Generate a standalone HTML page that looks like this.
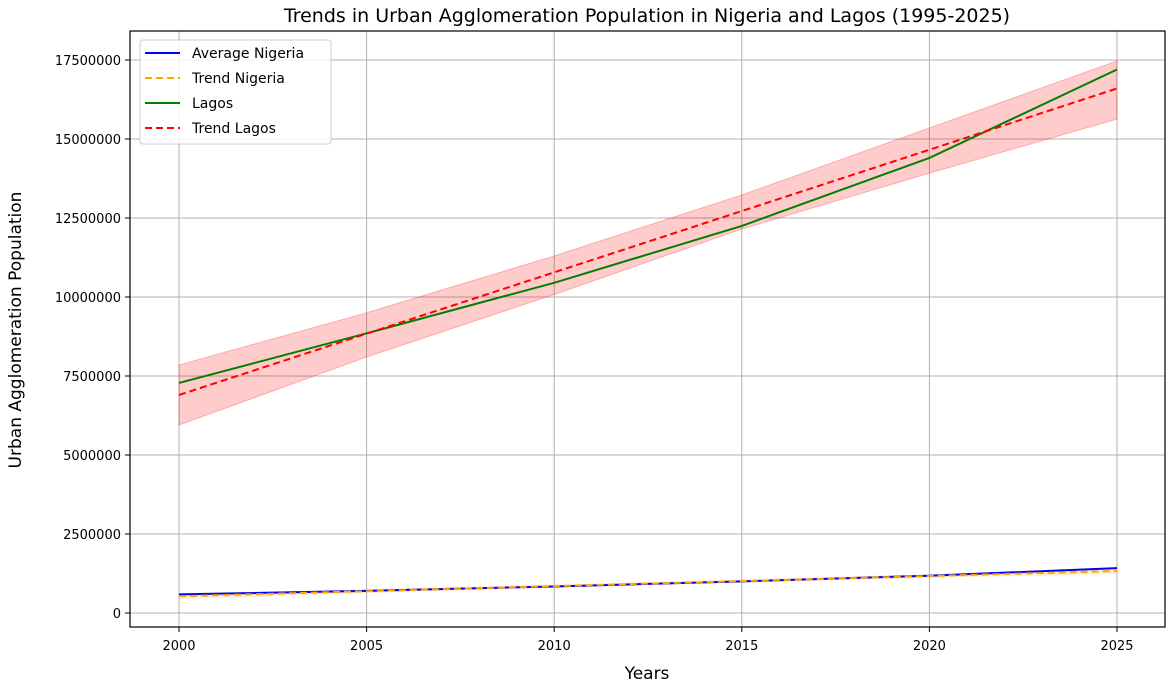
<!DOCTYPE html>
<html><head><meta charset="utf-8"><style>
body{margin:0;background:#fff;font-family:"DejaVu Sans","Liberation Sans",sans-serif;}
svg text{font-family:"DejaVu Sans","Liberation Sans",sans-serif;}
</style></head><body>
<svg id="chart" width="1170" height="684" xmlns="http://www.w3.org/2000/svg"></svg>
<script>
const years=[2000,2005,2010,2015,2020,2025];
const nigeria=[590000,700000,840000,1000000,1180000,1420000];
const lagos=[7280000,8850000,10450000,12250000,14400000,17200000];
const trendNigeriaEnds=[530000,1330000];
const trendLagosEnds=[6900000,16600000];
const bandNigeriaHalf=[90000,60000,50000,50000,60000,90000];
const bandLagosLower=[5950000,8100000,10080000,12150000,13920000,15630000];
const bandLagosUpper=[7850000,9500000,11300000,13230000,15350000,17470000];
const yTicks=[0,2500000,5000000,7500000,10000000,12500000,15000000,17500000];
const xTicks=[2000,2005,2010,2015,2020,2025];

const NS='http://www.w3.org/2000/svg';
const svg=document.getElementById('chart');
const L=130,R=1165,T=31,B=627;
const x=v=>179+(v-2000)*(1117-179)/25;
const y=v=>613-v*(613-60)/17500000;
function mk(tag,attrs,name,parent){const e=document.createElementNS(NS,tag);for(const k in attrs)e.setAttribute(k,attrs[k]);


(parent||svg).appendChild(e);return e;}
xTicks.forEach(t=>{mk('line',{x1:x(t),x2:x(t),y1:T,y2:B,stroke:'#b0b0b0','stroke-width':1},'x-grid-line');
mk('line',{x1:x(t),x2:x(t),y1:B,y2:B+5,stroke:'#000'},'x-tick');
const tx=mk('text',{x:x(t),y:B+23,'text-anchor':'middle','font-size':13},'x-tick-label');tx.textContent=t;});
yTicks.forEach(t=>{mk('line',{x1:L,x2:R,y1:y(t),y2:y(t),stroke:'#b0b0b0','stroke-width':1},'y-grid-line');
mk('line',{x1:L-5,x2:L,y1:y(t),y2:y(t),stroke:'#000'},'y-tick');
const tx=mk('text',{x:L-9,y:y(t)+5,'text-anchor':'end','font-size':13},'y-tick-label');tx.textContent=t;});
const x0=x(years[0]),x1=x(years[years.length-1]);
const trendAt=(ends,i)=>ends[0]+(ends[1]-ends[0])*(years[i]-years[0])/(years[years.length-1]-years[0]);
let up=years.map((yr,i)=>x(yr)+','+y(bandLagosUpper[i]));
let lo=years.map((yr,i)=>x(yr)+','+y(bandLagosLower[i])).reverse();
mk('polygon',{points:up.concat(lo).join(' '),fill:'rgba(255,0,0,0.2)',stroke:'rgba(255,0,0,0.25)'},'lagos-confidence-band');
up=years.map((yr,i)=>x(yr)+','+y(trendAt(trendNigeriaEnds,i)+bandNigeriaHalf[i]));
lo=years.map((yr,i)=>x(yr)+','+y(trendAt(trendNigeriaEnds,i)-bandNigeriaHalf[i])).reverse();
mk('polygon',{points:up.concat(lo).join(' '),fill:'rgba(255,165,0,0.2)'},'nigeria-confidence-band');
const pts=a=>a.map((v,i)=>x(years[i])+','+y(v)).join(' ');
mk('polyline',{points:pts(nigeria),fill:'none',stroke:'#0000ff','stroke-width':2},'average-nigeria-line');
mk('line',{x1:x0,y1:y(trendNigeriaEnds[0]),x2:x1,y2:y(trendNigeriaEnds[1]),stroke:'orange','stroke-width':2,'stroke-dasharray':'7,4'},'trend-nigeria-line');
mk('polyline',{points:pts(lagos),fill:'none',stroke:'#008000','stroke-width':2},'lagos-line');
mk('line',{x1:x0,y1:y(trendLagosEnds[0]),x2:x1,y2:y(trendLagosEnds[1]),stroke:'#ff0000','stroke-width':2,'stroke-dasharray':'7,4'},'trend-lagos-line');
mk('rect',{x:L,y:T,width:R-L,height:B-T,fill:'none',stroke:'#000','stroke-width':1.2},'plot-frame');
let t=mk('text',{x:647,y:22,'text-anchor':'middle','font-size':19},'chart-title');t.textContent='Trends in Urban Agglomeration Population in Nigeria and Lagos (1995-2025)';
t=mk('text',{x:647,y:679,'text-anchor':'middle','font-size':17},'x-axis-title');t.textContent='Years';
t=mk('text',{x:21,y:330,'text-anchor':'middle','font-size':17,transform:'rotate(-90 21 330)'},'y-axis-title');t.textContent='Urban Agglomeration Population';
const lg=mk('g',{},'legend');
mk('rect',{x:140,y:40,width:191,height:104,rx:3,fill:'rgba(255,255,255,0.85)',stroke:'#ccc'},'legend-box',lg);
const entries=[['Average Nigeria','#0000ff',''],['Trend Nigeria','orange','7,4'],['Lagos','#008000',''],['Trend Lagos','#ff0000','7,4']];
entries.forEach((e,i)=>{const yy=53+i*25;
mk('line',{x1:145,x2:180,y1:yy,y2:yy,stroke:e[1],'stroke-width':2,'stroke-dasharray':e[2]||'none'},'legend-entry-line',lg);
const tx=mk('text',{x:192,y:yy+5,'font-size':14},'legend-entry',lg);tx.textContent=e[0];});
</script>
</body></html>
